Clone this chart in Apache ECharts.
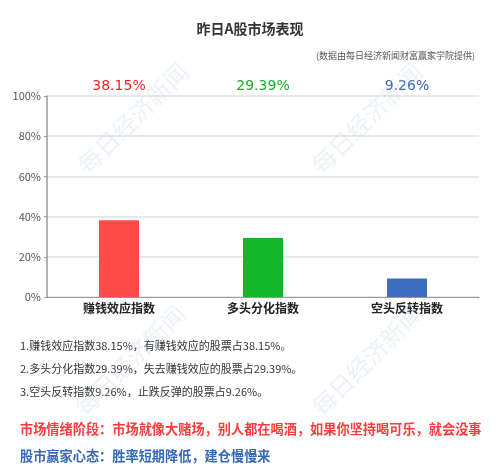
<!DOCTYPE html>
<html>
<head>
<meta charset="utf-8">
<script src="https://cdn.jsdelivr.net/npm/echarts@6/dist/echarts.min.js"></script>
<style>
  html, body { margin: 0; padding: 0; background: #fff; }
  #chart { width: 500px; height: 466px; }
</style>
</head>
<body>
<div id="chart"></div>
<script>
// Index names and today's readings (% of stocks)
const categories = ['赚钱效应指数', '多头分化指数', '空头反转指数'];
const values = [38.15, 29.39, 9.26];
const barColors = ['#ff4a4a', '#12b82a', '#3f6dbd'];
const labelColors = ['#ff1f1f', '#1aad2c', '#3a64ad'];
const yTicks = [0, 20, 40, 60, 80, 100];
const notes = ['有赚钱效应的股票占', '失去赚钱效应的股票占', '止跌反弹的股票占'];
const moodLine = '市场情绪阶段：市场就像大赌场，别人都在喝酒，如果你坚持喝可乐，就会没事';
const mindLine = '股市赢家心态：胜率短期降低，建仓慢慢来';

const FONT = '"Noto Sans CJK SC", "Noto Sans", sans-serif';
const fmt = v => v.toFixed(2) + '%';

const chart = echarts.init(document.getElementById('chart'));

// faint diagonal watermark, repeated in four spots
const marks = [[133, 118], [367, 118], [130, 360], [367, 360]].map(([x, y]) => ({
  type: 'text',
  x: x, y: y,
  rotation: Math.PI / 4,
  z: 100,
  silent: true,
  style: {
    text: '每日经济新闻',
    font: '24px ' + FONT,
    fill: 'rgba(185,200,225,0.28)',
    align: 'center',
    verticalAlign: 'middle'
  }
}));

const noteTexts = categories.map((c, i) => ({
  type: 'text',
  left: 20,
  top: 340 + i * 23,
  style: {
    text: (i + 1) + '.' + c + fmt(values[i]) + '，' + notes[i] + fmt(values[i]) + '。',
    font: '11px ' + FONT,
    fill: '#333'
  }
}));

chart.setOption({
  animation: false,
  textStyle: { fontFamily: FONT },
  title: [
    {
      text: '昨日A股市场表现',
      left: 'center', top: 17,
      textStyle: { fontSize: 14, fontWeight: 'bold', color: '#333' }
    },
    {
      text: '(数据由每日经济新闻财富赢家学院提供)',
      right: 20, top: 46,
      textStyle: { fontSize: 9, fontWeight: 'normal', color: '#555' }
    }
  ],
  grid: { left: 47, right: 21, top: 96, bottom: 169 },
  xAxis: [
    {
      type: 'category',
      data: categories,
      axisLine: { lineStyle: { color: '#999', width: 1 } },
      axisTick: { show: false },
      axisLabel: { color: '#222', fontSize: 12, fontWeight: 'bold', margin: 5 }
    },
    {
      type: 'category',
      position: 'top',
      data: values.map(fmt),
      axisLine: { show: false },
      axisTick: { show: false },
      axisLabel: {
        fontSize: 14,
        fontFamily: '"DejaVu Sans", Verdana, sans-serif',
        margin: 3,
        color: (v, i) => labelColors[i]
      }
    }
  ],
  yAxis: {
    type: 'value',
    min: yTicks[0], max: yTicks[yTicks.length - 1], interval: 20,
    axisLine: { show: true, lineStyle: { color: '#999', width: 1.5 } },
    axisTick: { show: true, length: 3, lineStyle: { color: '#999' } },
    axisLabel: { color: '#555', fontSize: 11, margin: 6, formatter: '{value}%' },
    splitLine: { lineStyle: { color: '#e0e0e0', width: 1.5 } }
  },
  series: [{
    type: 'bar',
    barWidth: 40,
    data: values.map((v, i) => ({ value: v, itemStyle: { color: barColors[i] } }))
  }],
  graphic: [
    ...noteTexts,
    {
      type: 'text', left: 20, top: 422,
      style: { text: moodLine, font: 'bold 13.2px ' + FONT, fill: '#ff3b3b' }
    },
    {
      type: 'text', left: 20, top: 449,
      style: { text: mindLine, font: 'bold 13.2px ' + FONT, fill: '#3568b8' }
    },
    ...marks
  ]
});
</script>
</body>
</html>
